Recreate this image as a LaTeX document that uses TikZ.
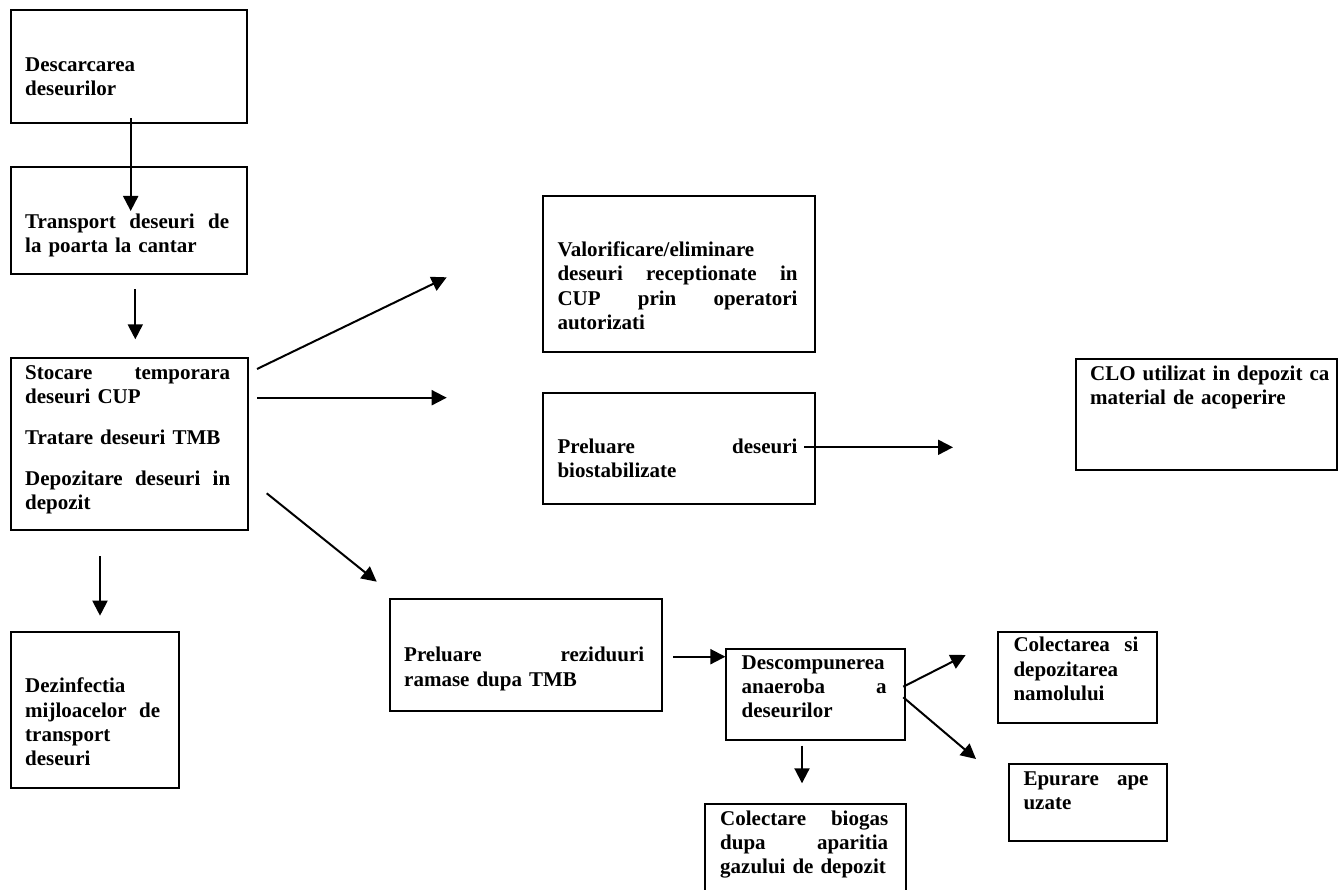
\documentclass[tikz,border=0pt]{standalone}
\usepackage{fontspec}
\setmainfont{Liberation Serif}
\usetikzlibrary{arrows.meta}

\begin{document}
\begin{tikzpicture}[x=1pt, y=-1pt,
    box/.style={rectangle, draw=black, line width=2pt, inner sep=0pt},
    txt/.style={inner sep=0pt, anchor=base west, align=left, font=\bfseries\fontsize{21}{24.3}\selectfont},
    arr/.style={line width=2pt, -{Triangle[length=15pt, width=15pt]}}]
    \clip (0,0) rectangle (1338,890);

    % boxes
    \node[box, minimum width=236pt, minimum height=112.7pt] (desc) at (129, 66.35) {};
    \node[box, minimum width=236pt, minimum height=107.3pt] (transp) at (129, 220.35) {};
    \node[box, minimum width=237pt, minimum height=172.3pt] (stoc) at (129.5, 443.85) {};
    \node[box, minimum width=168pt, minimum height=156.6pt] (dezinf) at (95, 710) {};
    \node[box, minimum width=272.6pt, minimum height=156.3pt] (valor) at (679, 273.85) {};
    \node[box, minimum width=272.6pt, minimum height=111.3pt] (biostab) at (679, 448.35) {};
    \node[box, minimum width=261pt, minimum height=111pt] (clo) at (1206.2, 414.5) {};
    \node[box, minimum width=272.4pt, minimum height=112pt] (rezid) at (525.8, 655) {};
    \node[box, minimum width=179pt, minimum height=91pt] (anaer) at (815.5, 694.5) {};
    \node[box, minimum width=200.5pt, minimum height=96pt] (biogas) at (805.25, 852) {};
    \node[box, minimum width=159.6pt, minimum height=91.6pt] (namol) at (1077.5, 677.5) {};
    \node[box, minimum width=158pt, minimum height=77pt] (epur) at (1088, 802.5) {};

    % texts
    \node[txt, text width=210pt] (desc-t) at (25, 71.7) {Descarcarea\\deseurilor};
    \node[txt, text width=204pt] (transp-t) at (25, 228.3) {Transport\hfill deseuri\hfill de\\la poarta la cantar};
    \node[txt, text width=205pt] (stoc-t) at (25, 379.3) {Stocare\hfill temporara\\deseuri CUP\\[16.4pt]Tratare deseuri TMB\\[16.4pt]Depozitare\hfill deseuri\hfill in\\depozit};
    \node[txt, text width=135pt] (dezinf-t) at (25, 692.7) {Dezinfectia\\mijloacelor\hfill de\\transport\\deseuri};
    \node[txt, text width=240pt] (valor-t) at (557.3, 256.7) {Valorificare/eliminare\\deseuri\hfill receptionate\hfill in\\CUP\hfill prin\hfill operatori\\autorizati};
    \node[txt, text width=240pt] (biostab-t) at (557.3, 453.3) {Preluare\hfill deseuri\\biostabilizate};
    \node[txt, text width=246pt] (clo-t) at (1090, 380) {CLO utilizat in depozit ca\\material de acoperire};
    \node[txt, text width=240pt] (rezid-t) at (404, 661.7) {Preluare\hfill reziduuri\\ramase dupa TMB};
    \node[txt, text width=145pt] (anaer-t) at (741.4, 669.3) {Descompunerea\\anaeroba\hfill a\\deseurilor};
    \node[txt, text width=168pt] (biogas-t) at (720, 825) {Colectare\hfill biogas\\dupa\hfill aparitia\\gazului de depozit};
    \node[txt, text width=125pt] (namol-t) at (1013.3, 651.7) {Colectarea\hfill si\\depozitarea\\namolului};
    \node[txt, text width=125pt] (epur-t) at (1023.3, 785) {Epurare\hfill ape\\uzate};

    % arrow ends
    \coordinate (desc-out) at (130.7, 118.3);
    \coordinate (transp-in) at (130.7, 211);
    \coordinate (transp-out) at (135.3, 289.3);
    \coordinate (stoc-in) at (135.3, 339.3);
    \coordinate (stoc-down) at (100, 556);
    \coordinate (dezinf-in) at (100, 615.7);
    \coordinate (stoc-up) at (257, 369);
    \coordinate (valor-in) at (446.7, 277.3);
    \coordinate (stoc-right) at (257, 397.7);
    \coordinate (biostab-in) at (446.7, 397.7);
    \coordinate (stoc-low) at (266.7, 493.3);
    \coordinate (rezid-in) at (376.7, 581.7);
    \coordinate (biostab-out) at (804, 447.3);
    \coordinate (clo-in) at (953, 447.3);
    \coordinate (rezid-out) at (673, 656.7);
    \coordinate (anaer-in) at (725.4, 656.7);
    \coordinate (anaer-down) at (802, 745.7);
    \coordinate (biogas-in) at (802, 783.3);
    \coordinate (anaer-up) at (903.3, 686.7);
    \coordinate (namol-in) at (965.7, 655);
    \coordinate (anaer-low) at (903.3, 697.3);
    \coordinate (epur-in) at (976, 759);

    \draw[arr] (desc-out) -- (transp-in);
    \draw[arr] (transp-out) -- (stoc-in);
    \draw[arr] (stoc-down) -- (dezinf-in);
    \draw[arr] (stoc-up) -- (valor-in);
    \draw[arr] (stoc-right) -- (biostab-in);
    \draw[arr] (stoc-low) -- (rezid-in);
    \draw[arr] (biostab-out) -- (clo-in);
    \draw[arr] (rezid-out) -- (anaer-in);
    \draw[arr] (anaer-down) -- (biogas-in);
    \draw[arr] (anaer-up) -- (namol-in);
    \draw[arr] (anaer-low) -- (epur-in);
\end{tikzpicture}
\end{document}
